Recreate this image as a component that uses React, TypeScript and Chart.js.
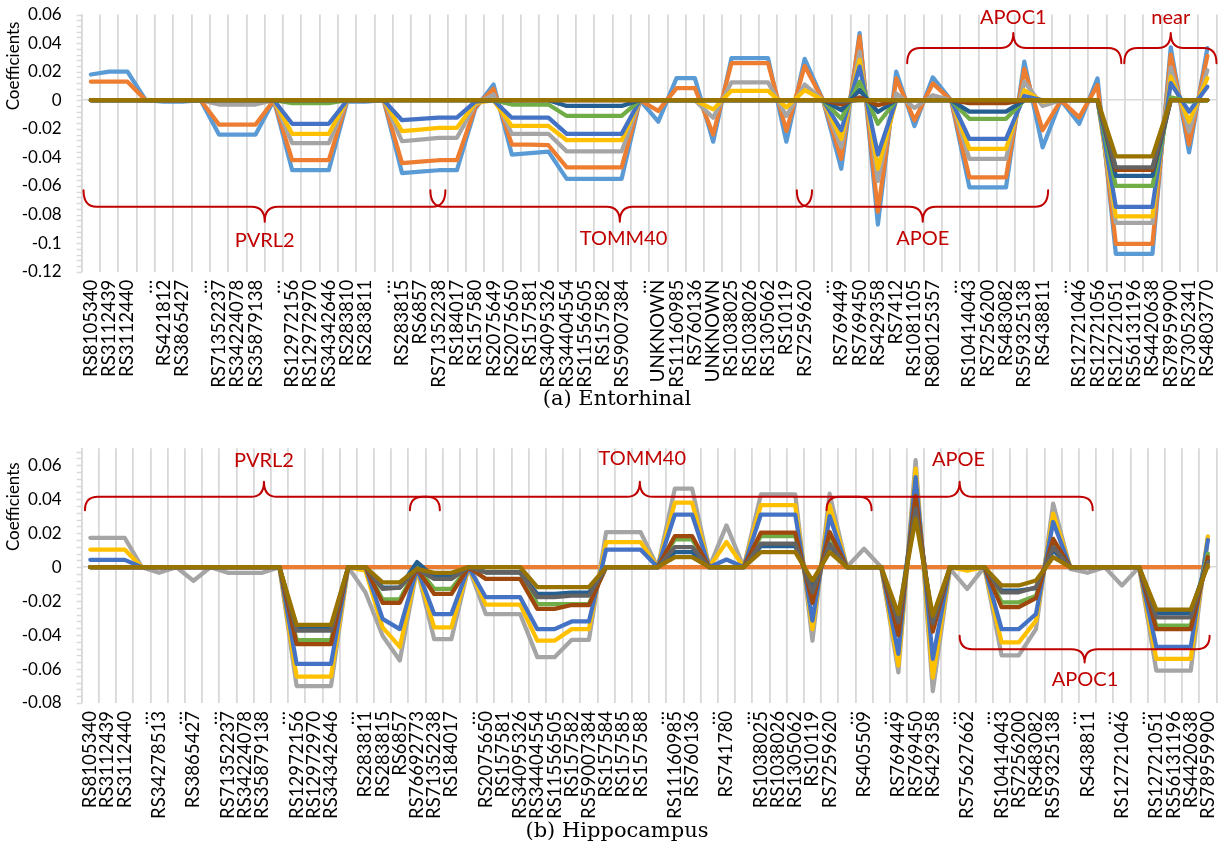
import React, { useEffect, useRef } from 'react';
import { Chart, registerables } from 'chart.js';

Chart.register(...registerables);

const SERIES_COLORS = ['#5B9BD5', '#ED7D31', '#A5A5A5', '#FFC000', '#4472C4', '#70AD47', '#255E91', '#9E480E', '#636363', '#997300'];

// ---------- (a) Entorhinal ----------
const topLabels = ['RS8105340', 'RS3112439', 'RS3112440', '…', 'RS421812', 'RS3865427', '…', 'RS71352237', 'RS34224078', 'RS35879138',
  '…', 'RS12972156', 'RS12972970', 'RS34342646', 'RS283810', 'RS283811', '…', 'RS283815', 'RS6857', 'RS71352238',
  'RS184017', 'RS157580', 'RS2075649', 'RS2075650', 'RS157581', 'RS34095326', 'RS34404554', 'RS11556505', 'RS157582', 'RS59007384',
  '…', 'UNKNOWN', 'RS11160985', 'RS760136', 'UNKNOWN', 'RS1038025', 'RS1038026', 'RS1305062', 'RS10119', 'RS7259620',
  '…', 'RS769449', 'RS769450', 'RS429358', 'RS7412', 'RS1081105', 'RS80125357', '…', 'RS10414043', 'RS7256200',
  'RS483082', 'RS59325138', 'RS438811', '…', 'RS12721046', 'RS12721056', 'RS12721051', 'RS56131196', 'RS4420638', 'RS78959900',
  'RS73052341', 'RS4803770'];

const topS1 = [0.018, 0.02, 0.02, 0, -0.001, -0.001, 0, -0.024, -0.024, -0.024,
  0, -0.049, -0.049, -0.049, -0.001, -0.001, 0, -0.051, -0.05, -0.049,
  -0.049, -0.006, 0.011, -0.038, -0.037, -0.036, -0.055, -0.055, -0.055, -0.055,
  0, -0.015, 0.0155, 0.0155, -0.029, 0.0295, 0.0295, 0.0295, -0.029, 0.029,
  0, -0.048, 0.047, -0.087, 0.02, -0.018, 0.016, 0, -0.061, -0.061,
  -0.061, 0.027, -0.033, 0, -0.0165, 0.0153, -0.1075, -0.1075, -0.1075, 0.037,
  -0.0365, 0.0365];
const topS2 = [0.013, 0.013, 0.013, 0, 0, 0, 0, -0.017, -0.017, -0.017,
  0, -0.042, -0.042, -0.042, 0, 0, 0, -0.044, -0.043, -0.042,
  -0.042, -0.005, 0.008, -0.031, -0.031, -0.0315, -0.047, -0.047, -0.047, -0.047,
  0, -0.0075, 0.0085, 0.0085, -0.024, 0.026, 0.026, 0.026, -0.0215, 0.024,
  0, -0.041, 0.0447, -0.078, 0.0153, -0.014, 0.0118, 0, -0.054, -0.054,
  -0.054, 0.022, -0.021, 0, -0.012, 0.0106, -0.1005, -0.1005, -0.1005, 0.032,
  -0.031, 0.031];
const topS3 = [0, 0, 0, 0, 0, 0, 0, -0.003, -0.003, -0.003,
  0, -0.03, -0.03, -0.03, 0, 0, 0, -0.0287, -0.0275, -0.0263,
  -0.0263, -0.003, 0.004, -0.0235, -0.0235, -0.0235, -0.0358, -0.0358, -0.0358, -0.0358,
  0, 0, 0, 0, -0.0122, 0.0125, 0.0125, 0.0125, -0.011, 0.011,
  0, -0.033, 0.0341, -0.0565, 0.0047, -0.0054, 0.0035, 0, -0.041, -0.041,
  -0.041, 0.013, -0.004, 0, 0, 0, -0.0859, -0.0859, -0.0859, 0.023,
  -0.022, 0.021];
const topS4 = [0, 0, 0, 0, 0, 0, 0, 0, 0, 0,
  0, -0.0235, -0.0235, -0.0235, 0, 0, 0, -0.0216, -0.0205, -0.0193,
  -0.0193, -0.002, 0, -0.018, -0.018, -0.018, -0.028, -0.028, -0.028, -0.028,
  0, 0, 0, 0, -0.0064, 0.0066, 0.0066, 0.0066, -0.005, 0.007,
  0, -0.027, 0.0282, -0.048, 0, 0, 0, 0, -0.034, -0.034,
  -0.034, 0.007, -0.001, 0, 0, 0, -0.0812, -0.0812, -0.0812, 0.0165,
  -0.015, 0.0155];
const topS5 = [0, 0, 0, 0, 0, 0, 0, 0, 0, 0,
  0, -0.0165, -0.0165, -0.0165, 0, 0, 0, -0.014, -0.013, -0.0122,
  -0.0122, -0.001, 0, -0.0122, -0.0122, -0.0122, -0.0235, -0.0235, -0.0235, -0.0235,
  0, 0, 0, 0, 0, 0, 0, 0, 0, 0,
  0, -0.021, 0.0235, -0.038, 0, 0, 0, 0, -0.027, -0.027,
  -0.027, 0.003, 0, 0, 0, 0, -0.0746, -0.0746, -0.0746, 0.012,
  -0.008, 0.0095];
const topS6 = [0, 0, 0, 0, 0, 0, 0, 0, 0, 0,
  0, -0.002, -0.002, -0.002, 0, 0, 0, 0, 0, 0,
  0, 0, 0, -0.003, -0.003, -0.003, -0.011, -0.011, -0.011, -0.011,
  0, 0, 0, 0, 0, 0, 0, 0, 0, 0,
  0, -0.013, 0.0129, -0.0165, 0, 0, 0, 0, -0.013, -0.013,
  -0.013, 0, 0, 0, 0, 0, -0.06, -0.06, -0.06, 0.002,
  -0.001, 0];
const topS7 = [0, 0, 0, 0, 0, 0, 0, 0, 0, 0,
  0, 0, 0, 0, 0, 0, 0, 0, 0, 0,
  0, 0, 0, 0, 0, 0, -0.004, -0.004, -0.004, -0.004,
  0, 0, 0, 0, 0, 0, 0, 0, 0, 0,
  0, -0.007, 0.0071, -0.0082, 0, 0, 0, 0, -0.008, -0.008,
  -0.008, 0, 0, 0, 0, 0, -0.0529, -0.0529, -0.0529, 0,
  0, 0];
const topS8 = [0, 0, 0, 0, 0, 0, 0, 0, 0, 0,
  0, 0, 0, 0, 0, 0, 0, 0, 0, 0,
  0, 0, 0, 0, 0, 0, 0, 0, 0, 0,
  0, 0, 0, 0, 0, 0, 0, 0, 0, 0,
  0, -0.003, 0.002, -0.0035, 0, 0, 0, 0, -0.002, -0.002,
  -0.002, 0, 0, 0, 0, 0, -0.0487, -0.0487, -0.0487, 0,
  0, 0];
const topS9 = [0, 0, 0, 0, 0, 0, 0, 0, 0, 0,
  0, 0, 0, 0, 0, 0, 0, 0, 0, 0,
  0, 0, 0, 0, 0, 0, 0, 0, 0, 0,
  0, 0, 0, 0, 0, 0, 0, 0, 0, 0,
  0, -0.001, 0, 0, 0, 0, 0, 0, 0, 0,
  0, 0, 0, 0, 0, 0, -0.047, -0.047, -0.047, 0,
  0, 0];
const topS10 = [0, 0, 0, 0, 0, 0, 0, 0, 0, 0,
  0, 0, 0, 0, 0, 0, 0, 0, 0, 0,
  0, 0, 0, 0, 0, 0, 0, 0, 0, 0,
  0, 0, 0, 0, 0, 0, 0, 0, 0, 0,
  0, 0, 0, 0, 0, 0, 0, 0, 0, 0,
  0, 0, 0, 0, 0, 0, -0.0393, -0.0393, -0.0393, 0,
  0, 0];

// ---------- (b) Hippocampus ----------
const botLabels = ['RS8105340', 'RS3112439', 'RS3112440', '…', 'RS34278513', '…', 'RS3865427', '…', 'RS71352237', 'RS34224078',
  'RS35879138', '…', 'RS12972156', 'RS12972970', 'RS34342646', '…', 'RS283811', 'RS283815', 'RS6857', 'RS76692773',
  'RS71352238', 'RS184017', '…', 'RS2075650', 'RS157581', 'RS34095326', 'RS34404554', 'RS11556505', 'RS157582', 'RS59007384',
  'RS157584', 'RS157585', 'RS157588', '…', 'RS11160985', 'RS760136', '…', 'RS741780', '…', 'RS1038025',
  'RS1038026', 'RS1305062', 'RS10119', 'RS7259620', '…', 'RS405509', '…', 'RS769449', 'RS769450', 'RS429358',
  '…', 'RS75627662', '…', 'RS10414043', 'RS7256200', 'RS483082', 'RS59325138', '…', 'RS438811', '…',
  'RS12721046', '…', 'RS12721051', 'RS56131196', 'RS4420638', 'RS78959900'];

const botS1 = [0, 0, 0, 0, 0, 0, 0, 0, 0, 0,
  0, 0, 0, 0, 0, 0, 0, 0, 0, 0,
  0, 0, 0, 0, 0, 0, 0, 0, 0, 0,
  0, 0, 0, 0, 0, 0, 0, 0, 0, 0,
  0, 0, 0, 0, 0, 0, 0, 0, 0, 0,
  0, 0, 0, 0, 0, 0, 0, 0, 0, 0,
  0, 0, 0, 0, 0, 0];
const botS2 = [0, 0, 0, 0, 0, 0, 0, 0, 0, 0,
  0, 0, 0, 0, 0, 0, 0, 0, 0, 0,
  0, 0, 0, 0, 0, 0, 0, 0, 0, 0,
  0, 0, 0, 0, 0, 0, 0, 0, 0, 0,
  0, 0, 0, 0, 0, 0, 0, 0, 0, 0,
  0, 0, 0, 0, 0, 0, 0, 0, 0, 0,
  0, 0, 0, 0, 0, 0];
const botS3 = [0.0173, 0.0173, 0.0173, 0, -0.0033, 0, -0.008, 0, -0.0033, -0.0033,
  -0.0033, 0, -0.07, -0.07, -0.07, 0, -0.0148, -0.0404, -0.055, -0.001,
  -0.0424, -0.0424, 0, -0.0276, -0.0276, -0.0276, -0.053, -0.053, -0.0428, -0.0428,
  0.0207, 0.0207, 0.0207, 0, 0.0463, 0.0463, 0, 0.0246, 0, 0.0428,
  0.0428, 0.0428, -0.0433, 0.0433, 0, 0.0108, 0, -0.062, 0.063, -0.073,
  -0.001, -0.0128, 0, -0.052, -0.052, -0.0365, 0.0374, -0.001, -0.0033, 0,
  -0.0108, 0, -0.061, -0.061, -0.061, 0.018];
const botS4 = [0.0104, 0.0104, 0.0104, 0, 0, 0, 0, 0, 0, 0,
  0, 0, -0.0644, -0.0644, -0.0644, 0, -0.002, -0.0355, -0.047, -0.001,
  -0.0355, -0.0355, 0, -0.022, -0.022, -0.022, -0.0433, -0.0433, -0.0365, -0.0365,
  0.0148, 0.0148, 0.0148, 0, 0.038, 0.038, 0, 0.0148, 0, 0.0365,
  0.0365, 0.0365, -0.0365, 0.0365, 0, 0, 0, -0.058, 0.058, -0.065,
  0, -0.002, 0, -0.0443, -0.0443, -0.0315, 0.0315, 0, 0, 0,
  0, 0, -0.054, -0.054, -0.054, 0.018];
const botS5 = [0.0043, 0.0043, 0.0043, 0, 0, 0, 0, 0, 0, 0,
  0, 0, -0.057, -0.057, -0.057, 0, 0, -0.0305, -0.0365, -0.001,
  -0.0276, -0.0276, 0, -0.0177, -0.0177, -0.0177, -0.0365, -0.0365, -0.032, -0.032,
  0.0104, 0.0104, 0.0104, 0, 0.031, 0.031, 0, 0.0045, 0, 0.031,
  0.031, 0.031, -0.0315, 0.03, 0, 0, 0, -0.051, 0.053, -0.054,
  0, 0, 0, -0.0365, -0.0365, -0.0276, 0.0266, 0, 0, 0,
  0, 0, -0.047, -0.047, -0.047, 0.016];
const botS6 = [0, 0, 0, 0, 0, 0, 0, 0, 0, 0,
  0, 0, -0.043, -0.043, -0.043, 0, 0, -0.019, -0.019, 0,
  -0.0128, -0.0128, 0, -0.003, -0.003, -0.003, -0.0217, -0.0217, -0.0217, -0.0217,
  0, 0, 0, 0, 0.0164, 0.0164, 0, 0, 0, 0.0183,
  0.0183, 0.0183, -0.019, 0.019, 0, 0, 0, -0.036, 0.04, -0.036,
  0, 0, 0, -0.0207, -0.0207, -0.017, 0.015, 0, 0, 0,
  0, 0, -0.0345, -0.0345, -0.0345, 0.008];
const botS7 = [0, 0, 0, 0, 0, 0, 0, 0, 0, 0,
  0, 0, -0.0365, -0.0365, -0.0365, 0, 0, -0.012, -0.012, 0.003,
  -0.0059, -0.0059, 0, -0.003, -0.003, -0.003, -0.0158, -0.0158, -0.015, -0.015,
  0, 0, 0, 0, 0.0089, 0.0089, 0, 0, 0, 0.0124,
  0.0124, 0.0124, -0.012, 0.013, 0, 0, 0, -0.03, 0.036, -0.032,
  0, 0, 0, -0.0138, -0.0138, -0.0124, 0.01, 0, 0, 0,
  0, 0, -0.027, -0.027, -0.027, 0.004];
const botS8 = [0, 0, 0, 0, 0, 0, 0, 0, 0, 0,
  0, 0, -0.0453, -0.0453, -0.0453, 0, 0, -0.021, -0.021, -0.001,
  -0.0158, -0.0158, 0, -0.0069, -0.0069, -0.0069, -0.0246, -0.0246, -0.0223, -0.0223,
  0, 0, 0, 0, 0.0183, 0.0183, 0, 0, 0, 0.0203,
  0.0203, 0.0203, -0.021, 0.0207, 0, 0, 0, -0.04, 0.042, -0.038,
  0, 0, 0, -0.0236, -0.0236, -0.0183, 0.0167, 0, 0, 0,
  0, 0, -0.0365, -0.0365, -0.0365, 0.006];
const botS9 = [0, 0, 0, 0, 0, 0, 0, 0, 0, 0,
  0, 0, -0.0374, -0.0374, -0.0374, 0, 0, -0.0128, -0.012, -0.001,
  -0.0069, -0.0069, 0, -0.003, -0.003, -0.003, -0.0177, -0.0177, -0.0167, -0.0167,
  0, 0, 0, 0, 0.0118, 0.0118, 0, 0, 0, 0.0138,
  0.0138, 0.0138, -0.0148, 0.0138, 0, 0, 0, -0.0325, 0.0345, -0.033,
  0, 0, 0, -0.0148, -0.0148, -0.0118, 0.0118, 0, 0, 0,
  0, 0, -0.0296, -0.0296, -0.0296, 0.003];
const botS10 = [0, 0, 0, 0, 0, 0, 0, 0, 0, 0,
  0, 0, -0.034, -0.034, -0.034, 0, 0, -0.0089, -0.0089, -0.001,
  -0.0033, -0.0033, 0, 0, 0, 0, -0.0118, -0.0118, -0.0118, -0.0118,
  0, 0, 0, 0, 0.0059, 0.0059, 0, 0, 0, 0.0089,
  0.0089, 0.0089, -0.0079, 0.0089, 0, 0, 0, -0.0276, 0.0286, -0.0286,
  0, 0, 0, -0.0108, -0.0108, -0.0079, 0.0059, 0, 0, 0,
  0, 0, -0.025, -0.025, -0.025, 0.001];

// Gene brackets, in category index (x) and coefficient (y) units
const topBraces = [
  { from: -0.4, to: 19.37, tip: 9.5, end: -0.063, line: -0.0746, point: -0.0851 },
  { from: 18.55, to: 39.4, tip: 28.9, end: -0.063, line: -0.0746, point: -0.0851 },
  { from: 38.57, to: 52.3, tip: 45.45, end: -0.063, line: -0.0746, point: -0.0851 },
  { from: 44.6, to: 56.3, tip: 50.4, end: 0.0259, line: 0.0365, point: 0.047 },
  { from: 56.46, to: 61.5, tip: 59.0, end: 0.0259, line: 0.0365, point: 0.047 },
];
const topGenes = [
  { text: 'PVRL2', at: 9.5, value: -0.098 },
  { text: 'TOMM40', at: 29.1, value: -0.097 },
  { text: 'APOE', at: 45.45, value: -0.097 },
  { text: 'APOC1', at: 50.4, value: 0.058 },
  { text: 'near', at: 59.0, value: 0.058 },
];
const botBraces = [
  { from: -0.31, to: 20.33, tip: 10.1, end: 0.0335, line: 0.0414, point: 0.0503 },
  { from: 18.59, to: 45.44, tip: 31.96, end: 0.0335, line: 0.0414, point: 0.0503 },
  { from: 42.82, to: 58.3, tip: 50.56, end: 0.0335, line: 0.0414, point: 0.0503 },
  { from: 50.56, to: 65.1, tip: 57.83, end: -0.0404, line: -0.0483, point: -0.0562 },
];
const botGenes = [
  { text: 'PVRL2', at: 10.1, value: 0.063 },
  { text: 'TOMM40', at: 32.1, value: 0.064 },
  { text: 'APOE', at: 50.5, value: 0.0635 },
  { text: 'APOC1', at: 57.85, value: -0.066 },
];

const RED = '#C00000';
const GRID = '#D9D9D9';
const FONT = 'Lato';

function annotPlugin(braces: any[], genes: any[], titleValue: number) {
  return {
    id: 'annot',
    afterDraw(chart: any) {
      const { ctx, chartArea } = chart;
      const xs = chart.scales.x;
      const ys = chart.scales.y;
      ctx.save();
      // minor tick marks on the value axis
      ctx.strokeStyle = GRID;
      ctx.lineWidth = 1.5;
      ctx.beginPath();
      const minorStep = 0.004;
      for (let k = 0; ; k++) {
        const v = ys.min + k * minorStep;
        if (v > ys.max + 1e-9) break;
        const py = Math.round(ys.getPixelForValue(v)) + 0.5;
        ctx.moveTo(chartArea.left - 5, py);
        ctx.lineTo(chartArea.left, py);
      }
      ctx.stroke();
      // braces
      ctx.strokeStyle = RED;
      ctx.lineWidth = 2;
      ctx.lineJoin = 'round';
      ctx.lineCap = 'round';
      const r = 13;
      for (const b of braces) {
        const x0 = xs.getPixelForValue(b.from);
        const x1 = xs.getPixelForValue(b.to);
        const xm = xs.getPixelForValue(b.tip);
        const yE = ys.getPixelForValue(b.end);
        const yL = ys.getPixelForValue(b.line);
        const yT = ys.getPixelForValue(b.point);
        ctx.beginPath();
        ctx.moveTo(x0, yE);
        ctx.quadraticCurveTo(x0, yL, x0 + r, yL);
        ctx.lineTo(xm - r, yL);
        ctx.quadraticCurveTo(xm, yL, xm, yT);
        ctx.quadraticCurveTo(xm, yL, xm + r, yL);
        ctx.lineTo(x1 - r, yL);
        ctx.quadraticCurveTo(x1, yL, x1, yE);
        ctx.stroke();
      }
      ctx.fillStyle = RED;
      ctx.font = `20px ${FONT}`;
      ctx.textAlign = 'center';
      ctx.textBaseline = 'middle';
      for (const g of genes) {
        ctx.fillText(g.text, xs.getPixelForValue(g.at), ys.getPixelForValue(g.value));
      }
      // axis title
      ctx.save();
      ctx.translate(chartArea.left - 68, ys.getPixelForValue(titleValue));
      ctx.rotate(-Math.PI / 2);
      ctx.fillStyle = '#000';
      ctx.font = `17px ${FONT}`;
      ctx.fillText('Coefficients', 0, 0);
      ctx.restore();
      ctx.restore();
    },
  };
}

function makeConfig(o: {
  labels: string[]; series: number[][]; min: number; max: number;
  plotTop: number; plotBottom: number; height: number;
  braces: any[]; genes: any[]; titleValue: number;
}): any {
  return {
    type: 'line',
    data: {
      labels: o.labels,
      datasets: o.series.map((d, k) => ({
        data: d,
        borderColor: SERIES_COLORS[k],
        backgroundColor: SERIES_COLORS[k],
        borderWidth: 4.25,
        pointRadius: 0,
        pointHoverRadius: 0,
        tension: 0,
        fill: false,
        borderJoinStyle: 'round',
        borderCapStyle: 'round',
        order: o.series.length - k,
      })),
    },
    options: {
      responsive: false,
      animation: false,
      events: [],
      layout: { padding: { left: 7.7, right: 8.5, top: o.plotTop, bottom: 0 } },
      plugins: { legend: { display: false }, tooltip: { enabled: false } },
      scales: {
        x: {
          type: 'category',
          offset: true,
          grid: { offset: true, color: GRID, lineWidth: 1.8, drawTicks: false },
          border: { display: false },
          ticks: {
            autoSkip: false, maxRotation: 90, minRotation: 90, padding: 8,
            color: '#000', font: { family: FONT, size: 18.6 },
          },
          afterFit: (s: any) => { s.height = o.height - o.plotBottom; s.paddingLeft = 0; s.paddingRight = 0; },
        },
        y: {
          type: 'linear',
          min: o.min,
          max: o.max,
          ticks: {
            stepSize: 0.02, includeBounds: false, padding: 20,
            color: '#000', font: { family: FONT, size: 17 },
            callback: (v: any) => {
              const n = Number(v);
              if (Math.abs(n * 50 - Math.round(n * 50)) > 1e-6) return '';
              const r = Math.round(n * 100) / 100;
              return r === 0 ? '0' : String(r);
            },
          },
          grid: {
            drawTicks: false,
            lineWidth: 1.5,
            color: (ctx: any) => (ctx.tick && Math.abs(ctx.tick.value) < 1e-9 ? GRID : 'rgba(0,0,0,0)'),
          },
          border: { display: true, color: GRID, width: 1.5 },
          afterFit: (s: any) => { s.width = 74; s.paddingTop = 0; s.paddingBottom = 0; },
        },
      },
    },
    plugins: [annotPlugin(o.braces, o.genes, o.titleValue)],
  };
}

export default function App() {
  const topRef = useRef<HTMLCanvasElement>(null);
  const botRef = useRef<HTMLCanvasElement>(null);

  useEffect(() => {
    const c1 = new Chart(topRef.current as HTMLCanvasElement, makeConfig({
      labels: topLabels,
      series: [topS1, topS2, topS3, topS4, topS5, topS6, topS7, topS8, topS9, topS10],
      min: -0.12, max: 0.06, plotTop: 14.5, plotBottom: 271.7, height: 392,
      braces: topBraces, genes: topGenes, titleValue: 0.024,
    }));
    const c2 = new Chart(botRef.current as HTMLCanvasElement, makeConfig({
      labels: botLabels,
      series: [botS1, botS2, botS3, botS4, botS5, botS6, botS7, botS8, botS9, botS10],
      min: -0.08, max: 0.07, plotTop: 18.3, plotBottom: 273, height: 392,
      braces: botBraces, genes: botGenes, titleValue: 0.0356,
    }));
    return () => { c1.destroy(); c2.destroy(); };
  }, []);

  const caption: React.CSSProperties = {
    position: 'absolute', left: 0, width: 1234, textAlign: 'center',
    fontFamily: '"DejaVu Serif", serif', fontSize: 21, lineHeight: '24px', color: '#000',
  };

  return (
    <div style={{ position: 'absolute', left: 0, top: 0, width: 1225, height: 851, background: '#fff' }}>
      <canvas ref={topRef} width={1225} height={392} style={{ position: 'absolute', left: 0, top: 0 }} />
      <div style={{ ...caption, top: 386 }}>(a) Entorhinal</div>
      <canvas ref={botRef} width={1225} height={392} style={{ position: 'absolute', left: 0, top: 430 }} />
      <div style={{ ...caption, top: 818 }}>(b) Hippocampus</div>
    </div>
  );
}
